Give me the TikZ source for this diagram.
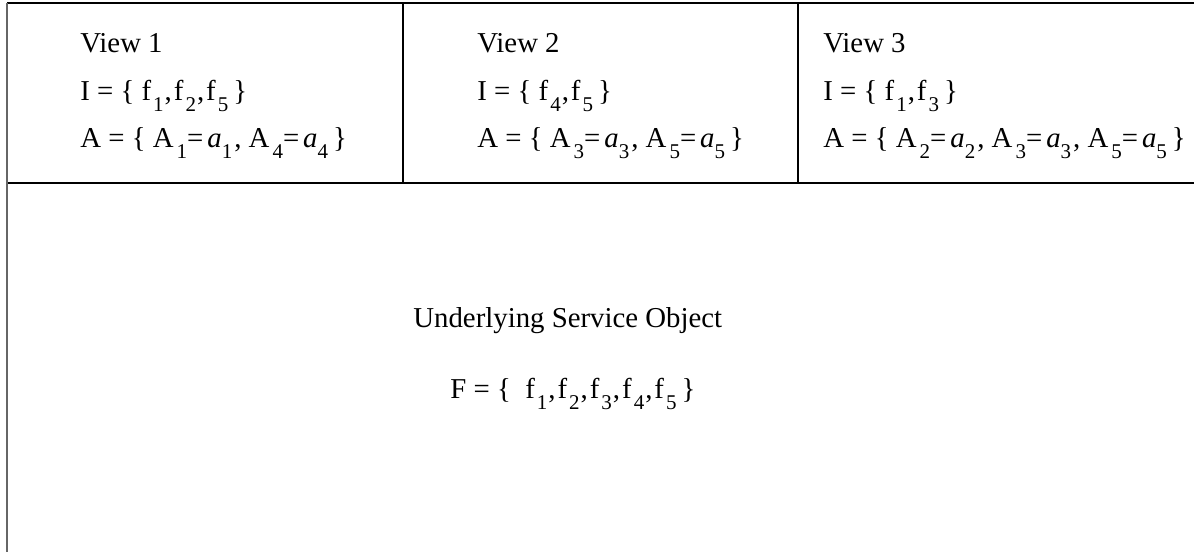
\documentclass[tikz,border=0pt]{standalone}
\usepackage{fontspec}
\setmainfont{Liberation Serif}
\newcommand\ssub[1]{\raisebox{-5.5pt}{\fontsize{10.5}{10.5}\selectfont #1}}
\newcommand\Asub[1]{A\hspace{1.5pt}\ssub{#1}}
\newcommand\fsub[1]{f\hspace{1pt}\ssub{#1}}
\newcommand\asub[1]{\textit{a}\ssub{#1}}
\newcommand\eqa[1]{=\hspace{2pt}\asub{#1}}
\newcommand\fc{\hspace{0.5pt},\hspace{1pt}}
\newcommand\ac{\hspace{1pt}, }
\newcommand\cb{\hspace{2.5pt}\}}
\tikzset{
  txt/.style={anchor=base west, inner sep=0pt, font=\fontsize{14.4}{16}\selectfont},
  rule/.style={line width=0.8pt, black},
  leftrule/.style={line width=1pt, black!60}
}
\begin{document}
\begin{tikzpicture}[x=0.5pt,y=-0.5pt]
\useasboundingbox (0,0) rectangle (1194,552);
\coordinate (tl) at (7,3);
\coordinate (tr) at (1194,3);
\coordinate (ml) at (7,183);
\coordinate (mr) at (1194,183);
\coordinate (bl) at (7,552);
\coordinate (d1t) at (403,3);
\coordinate (d1b) at (403,183);
\coordinate (d2t) at (798,3);
\coordinate (d2b) at (798,183);
\draw[rule] (tl) -- (tr);
\draw[rule] (ml) -- (mr);
\draw[rule] (d1t) -- (d1b);
\draw[rule] (d2t) -- (d2b);
\draw[leftrule] (tl) -- (bl);
% View 1
\node[txt] (v1) at (80,52) {View 1};
\node[txt] (v1i) at (80,100) {I = \{ \fsub{1}\fc\fsub{2}\fc\fsub{5}\cb};
\node[txt] (v1a) at (80,147) {A = \{ \Asub{1}\eqa{1}\ac\Asub{4}\eqa{4}\cb};
% View 2
\node[txt] (v2) at (477,52) {View 2};
\node[txt] (v2i) at (477,100) {I = \{ \fsub{4}\fc\fsub{5}\cb};
\node[txt] (v2a) at (477,147) {A = \{ \Asub{3}\eqa{3}\ac\Asub{5}\eqa{5}\cb};
% View 3
\node[txt] (v3) at (823,52) {View 3};
\node[txt] (v3i) at (823,100) {I = \{ \fsub{1}\fc\fsub{3}\cb};
\node[txt] (v3a) at (823,147) {A = \{ \Asub{2}\eqa{2}\ac\Asub{3}\eqa{3}\ac\Asub{5}\eqa{5}\cb};
% Underlying
\node[txt] (u) at (413,327) {Underlying Service Object};
\node[txt] (uf) at (450,398) {F = \{\ \ \fsub{1}\fc\fsub{2}\fc\fsub{3}\fc\fsub{4}\fc\fsub{5}\cb};
\end{tikzpicture}
\end{document}
